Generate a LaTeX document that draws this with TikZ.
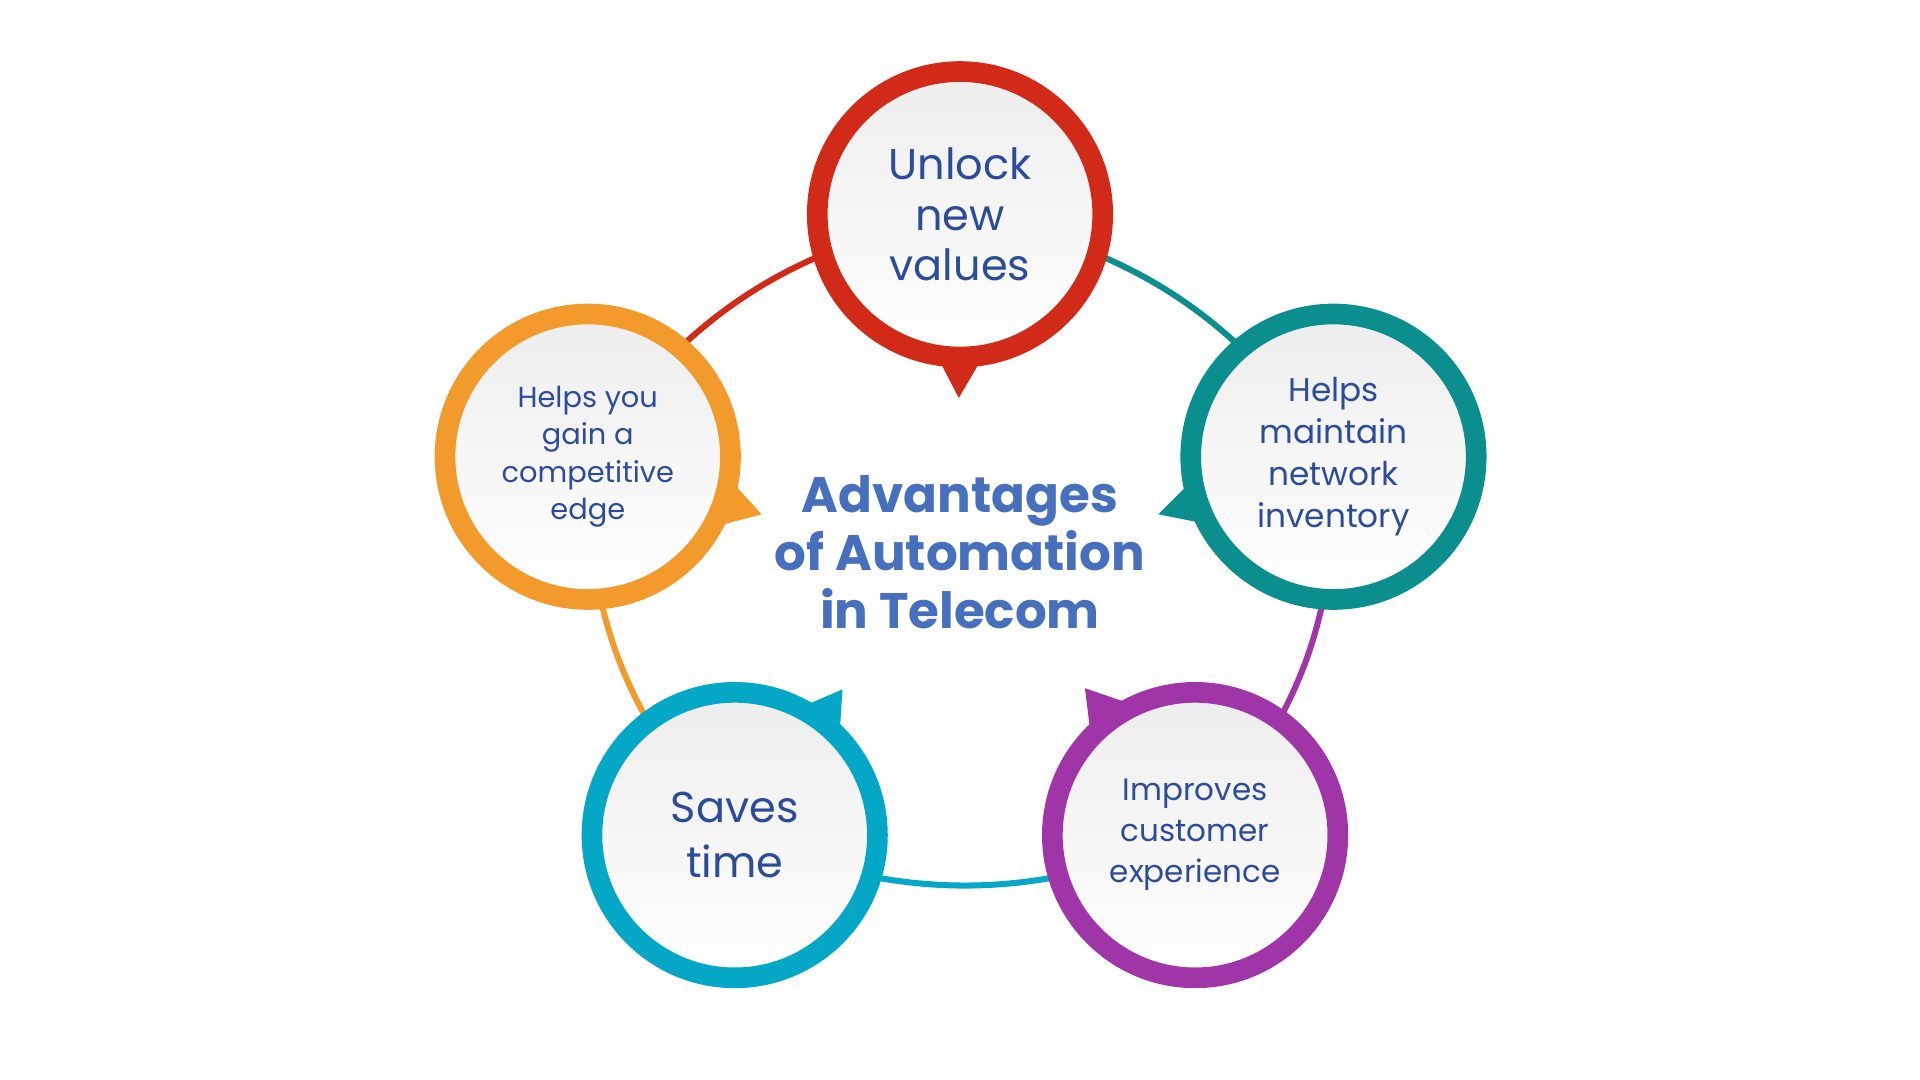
\documentclass[tikz,border=0pt]{standalone}
\usepackage{fontspec}
\setmainfont{Poppins}
\begin{document}
\begin{tikzpicture}[x=0.01cm,y=-0.01cm,
  conn/.style={line width=1.4pt},
  bub/.style={circle,minimum size=2.33cm,line width=4.8pt,inner sep=0pt,
    top color=gray!14,bottom color=white,align=center,text=txt},
  tail/.style={fill=#1,draw=none}]
\definecolor{cred}{HTML}{D22A18}
\definecolor{cteal}{HTML}{0B8F8E}
\definecolor{corange}{HTML}{F39A2C}
\definecolor{ccyan}{HTML}{04A8C6}
\definecolor{cpurple}{HTML}{A035A8}
\definecolor{txt}{HTML}{2B4C9B}
\definecolor{ttl}{HTML}{4670BE}
\useasboundingbox (0,0) rectangle (1568,882);
\coordinate (cu) at (784,175);
\coordinate (ct) at (1089,373);
\coordinate (cp) at (976,682);
\coordinate (cc) at (600,682);
\coordinate (co) at (480,373);
\draw[conn,cteal] (cu) to[bend left=22] (ct);
\draw[conn,cpurple] (ct) to[bend left=22] (cp);
\draw[conn,ccyan] (cp) to[bend left=22] (cc);
\draw[conn,corange] (cc) to[bend left=22] (co);
\draw[conn,cred] (co) to[bend left=22] (cu);
% tails
\fill[cred] (768,296) -- (783,325) -- (800,296) -- cycle;
\fill[cteal] (970,396) -- (946,420) -- (976,426) -- cycle;
\fill[corange] (600,396) -- (622,420) -- (592,428) -- cycle;
\fill[ccyan] (660,575) -- (688,563) -- (686,595) -- cycle;
\fill[cpurple] (890,594) -- (886,562) -- (918,573) -- cycle;
\node[bub,draw=cred,font=\fontsize{10}{11.8}\selectfont] (u) at (cu) {Unlock\\new\\values};
\node[bub,draw=cteal,font=\fontsize{7.6}{9.7}\selectfont] (t) at (ct) {Helps\\maintain\\network\\inventory};
\node[bub,draw=cpurple,font=\fontsize{7.2}{9.5}\selectfont] (p) at (cp) {Improves\\customer\\experience};
\node[bub,draw=ccyan,font=\fontsize{10}{12.7}\selectfont] (c) at (cc) {Saves\\time};
\node[bub,draw=corange,font=\fontsize{6.7}{8.6}\selectfont] (o) at (co) {Helps you\\gain a\\competitive\\edge};
\node[text=ttl,align=center,font=\bfseries\fontsize{11.6}{13.5}\selectfont] (title) at (784,451) {Advantages\\of Automation\\in Telecom};
\end{tikzpicture}
\end{document}
